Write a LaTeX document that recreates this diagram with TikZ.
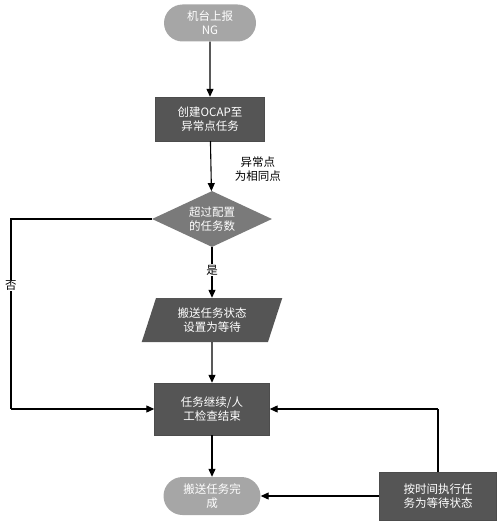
\documentclass[tikz,border=0pt]{standalone}
\usepackage{fontspec}
\newfontfamily\cjk{Noto Sans CJK SC}
\usetikzlibrary{shapes.geometric,shapes.misc,arrows.meta}
\definecolor{lightg}{HTML}{A6A6A6}
\definecolor{darkg}{HTML}{555555}
\definecolor{midg}{HTML}{7A7A7A}
\begin{document}
\begin{tikzpicture}[x=1pt,y=1pt,
  every node/.style={font=\cjk\fontsize{11.5}{14}\selectfont,align=center},
  term/.style={rounded rectangle,fill=lightg,text=white,minimum width=96,minimum height=37,inner sep=2},
  boxd/.style={rectangle,fill=darkg,text=white,draw=black!70,line width=0.4,inner sep=2},
  dia/.style={diamond,fill=midg,text=white,aspect=2.15,inner sep=0},
  para/.style={trapezium,trapezium left angle=72,trapezium right angle=108,fill=darkg,text=white,inner sep=2},
  lab/.style={fill=white,inner sep=1},
  arr/.style={-{Triangle[length=8,width=7]},line width=1.1,black}]
\useasboundingbox (0,0) rectangle (500,-524);
\node[term] (start) at (210,-23) {机台上报\\NG};
\node[boxd,minimum width=109,minimum height=44] (b1) at (210,-119) {创建OCAP至\\异常点任务};
\node[dia,minimum width=120,minimum height=56] (d) at (212,-219) {超过配置\\的任务数};
\node[para,minimum width=112,minimum height=44] (p) at (212,-320) {搬送任务状态\\设置为等待};
\node[boxd,minimum width=115,minimum height=52] (b3) at (212,-409) {任务继续/人\\工检查结束};
\node[term,minimum width=101,minimum height=38] (end) at (212,-496) {搬送任务完\\成};
\node[boxd,minimum width=117,minimum height=48] (br) at (438,-496) {按时间执行任\\务为等待状态};
\coordinate (nl) at (11,-219);
\coordinate (nb) at (11,-409);
\coordinate (rt) at (438,-409);
\draw[arr] (start) -- (b1);
\draw[arr] (b1) -- node[right,xshift=20,yshift=-3] {异常点\\为相同点} (d);
\draw[arr] (d) -- node[lab,pos=0.45] {是} (p);
\draw[arr] (p) -- (b3);
\draw[line width=1.1] (d.west) -- (nl) -- node[lab,pos=0.35] {否} (nb);
\draw[arr] (nb) -- (b3.west);
\draw[arr] (b3) -- (end);
\draw[arr] (br.west) -- (end.east);
\draw[line width=1.1] (br.north) -- (rt);
\draw[arr] (rt) -- (b3.east);
\end{tikzpicture}
\end{document}
